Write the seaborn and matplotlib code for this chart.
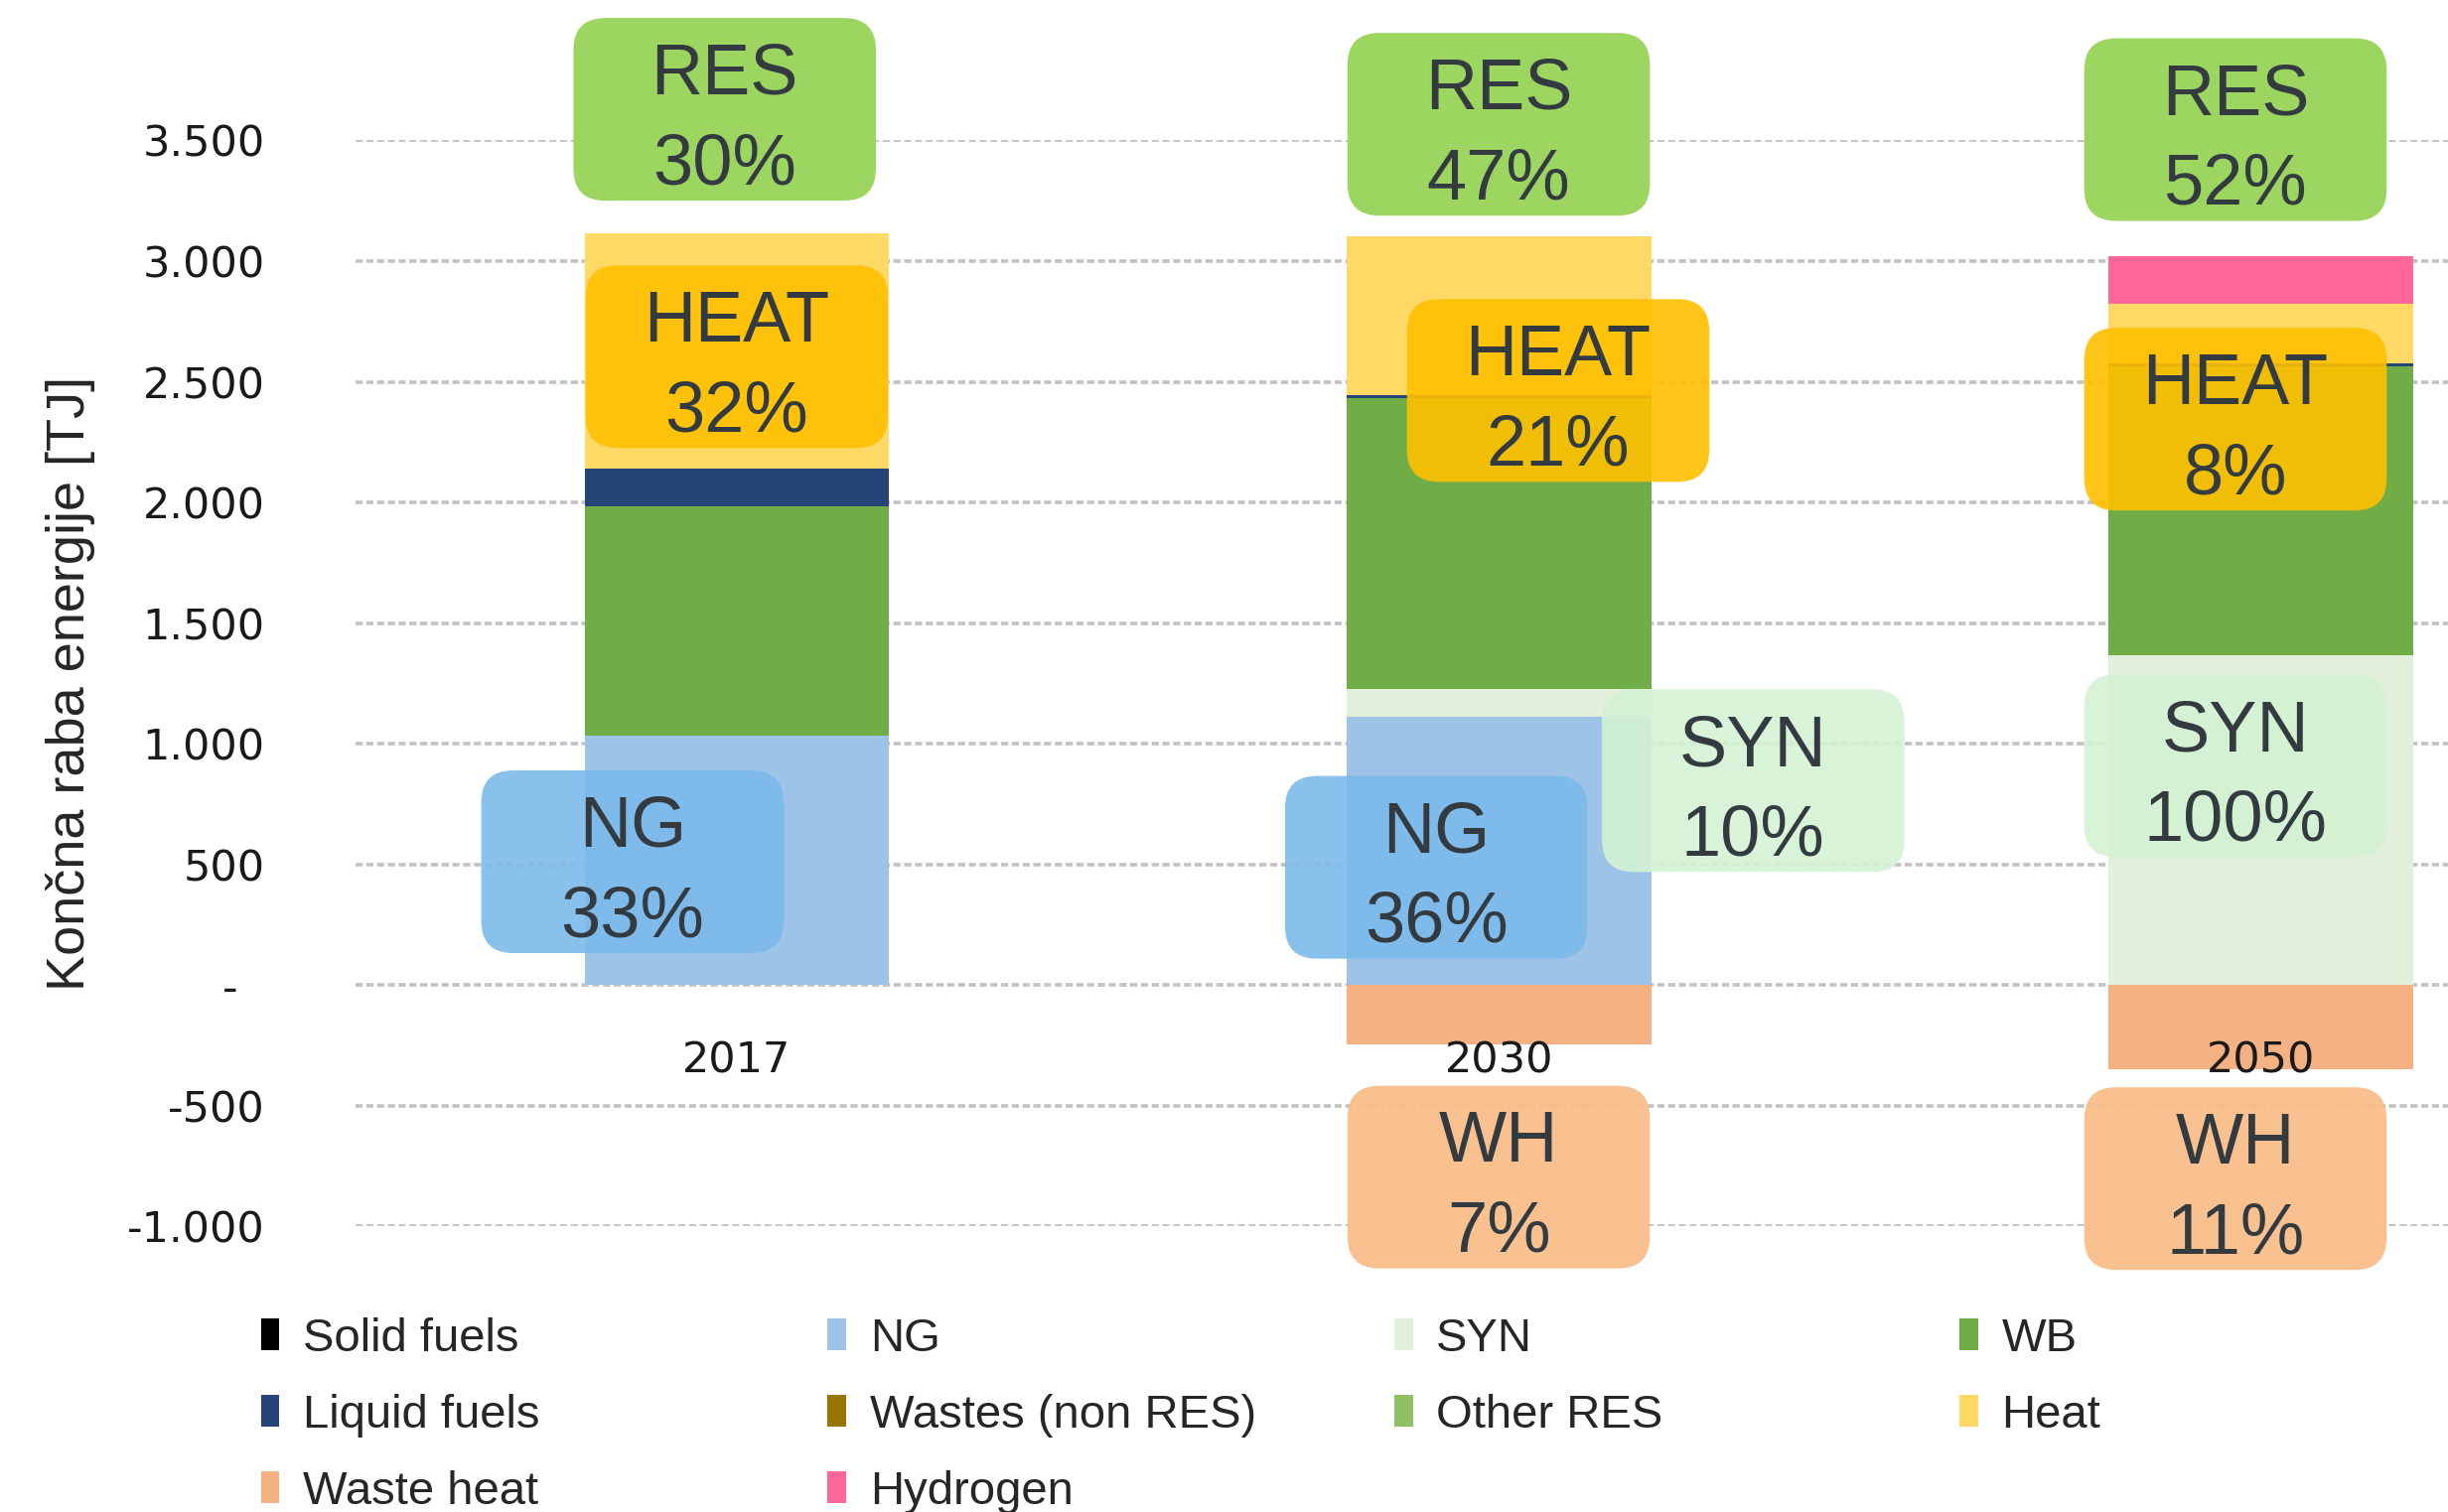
import numpy as np
import pandas as pd
import matplotlib.pyplot as plt
import seaborn as sns
from matplotlib.patches import Patch, FancyBboxPatch

# ---- data (TJ) ----
years = ['2017', '2030', '2050']
series = ['Solid fuels', 'NG', 'SYN', 'WB', 'Liquid fuels',
          'Wastes (non RES)', 'Other RES', 'Heat', 'Waste heat', 'Hydrogen']
solid_fuels = [0, 0, 0]
ng = [1035, 1110, 0]
syn = [0, 118, 1365]
wb = [950, 1205, 1200]
liquid_fuels = [155, 10, 10]
wastes_non_res = [0, 0, 0]
other_res = [0, 0, 0]
heat = [975, 660, 247]
waste_heat = [0, -245, -350]
hydrogen = [0, 0, 200]

colors = ['#000000', '#9DC3E6', '#E2EFDA', '#70AD47', '#264478',
          '#997300', '#8FC064', '#FFD966', '#F4B183', '#FF6699']

# share labels
box_names = ['RES', 'RES', 'RES', 'HEAT', 'HEAT', 'HEAT',
             'NG', 'NG', 'SYN', 'SYN', 'WH', 'WH']
box_pcts = ['30%', '47%', '52%', '32%', '21%', '8%',
            '33%', '36%', '10%', '100%', '7%', '11%']
# label box centres (category index, TJ)
box_x = [-0.016, 1.0, 1.967, 0.0, 1.078, 1.967, -0.137, 0.918, 1.334, 1.967, 1.0, 1.967]
box_y = [3629, 3567, 3545, 2604, 2464, 2345, 511, 488, 847, 909, -796, -802]
box_style = {
    'RES': ('#9DD561', 1.0),
    'HEAT': ('#FFC000', 0.9),
    'NG': ('#7CBBEB', 0.9),
    'SYN': ('#D4F2D4', 0.9),
    'WH': ('#F9BE89', 0.95),
}

wide = pd.DataFrame([solid_fuels, ng, syn, wb, liquid_fuels, wastes_non_res,
                     other_res, heat, waste_heat, hydrogen],
                    index=series, columns=years).T
color_of = dict(zip(series, colors))
stack = [s for s in series if s != 'Waste heat']
cum = wide[stack].cumsum(axis=1)

sns.set_style('white')
plt.rcParams['font.family'] = ['DejaVu Sans']
label_font = 'Liberation Sans'

fig = plt.figure(figsize=(24.65, 15.23), dpi=100)
ax = fig.add_axes([0.1454, 0.1889, 0.8546, 0.7182])

# stacked bars: draw cumulative totals from the top down
for s in reversed(stack):
    sns.barplot(x=years, y=cum[s].values, order=years, color=color_of[s],
                saturation=1, width=0.4, errorbar=None, linewidth=0, ax=ax)
sns.barplot(x=years, y=wide['Waste heat'].values, order=years,
            color=color_of['Waste heat'], saturation=1, width=0.4,
            errorbar=None, linewidth=0, ax=ax)

ax.set_xlim(-0.5, 2.246)
ax.set_ylim(-1000, 3500)
yt = list(range(-1000, 3501, 500))
ax.set_yticks(yt)
ax.set_yticklabels(['-  ' if v == 0 else f'{v:,}'.replace(',', '.') for v in yt])
ax.set_xlabel('')
ax.set_ylabel('Končna raba energije [TJ]', family=label_font, fontsize=39,
              va='center')
ax.yaxis.set_label_coords(-0.1366, 0.5)

for sp in ax.spines.values():
    sp.set_visible(False)
ax.spines['bottom'].set_position(('data', 0))
ax.yaxis.grid(True, color='#C2C2C2', lw=2.6, ls=(0, (2, 1)))
ax.xaxis.grid(False)
ax.tick_params(axis='y', length=0, pad=66, labelsize=31, labelcolor='#1a1a1a')
ax.tick_params(axis='x', length=0, pad=40, labelsize=31, labelcolor='#1a1a1a')
ax.yaxis.set_zorder(0.5)
ax.xaxis.set_zorder(5)

# rounded share boxes
bw, bh = 0.397, 757
aspect = 3160
for name, pct, x, y in zip(box_names, box_pcts, box_x, box_y):
    fc, a = box_style[name]
    box = FancyBboxPatch((x - bw / 2, y - bh / 2), bw, bh,
                         boxstyle='round,pad=0,rounding_size=0.042',
                         mutation_aspect=aspect, facecolor=fc, edgecolor='none',
                         alpha=a, transform=ax.transData, clip_on=False, zorder=3)
    ax.add_patch(box)
    ax.annotate(name, xy=(x, y), xytext=(0, 11), textcoords='offset points',
                ha='center', va='baseline', fontsize=52, family=label_font,
                color='#333B41', zorder=4, annotation_clip=False)
    ax.annotate(pct, xy=(x, y), xytext=(0, -54), textcoords='offset points',
                ha='center', va='baseline', fontsize=52, family=label_font,
                color='#333B41', zorder=4, annotation_clip=False)

# legend: four columns, filled row by row
cols_x = [0.1065, 0.338, 0.5695, 0.8004]
for c, cx in enumerate(cols_x):
    names = series[c::4]
    handles = [Patch(facecolor=color_of[n], edgecolor='none') for n in names]
    fig.legend(handles, names, loc='upper left', bbox_to_anchor=(cx, 0.129),
               frameon=False, borderpad=0, borderaxespad=0,
               handlelength=0.4, handleheight=0.64, handletextpad=0.5,
               labelspacing=0.70, prop={'family': label_font, 'size': 34})

fig.savefig('out.png', dpi=100)
